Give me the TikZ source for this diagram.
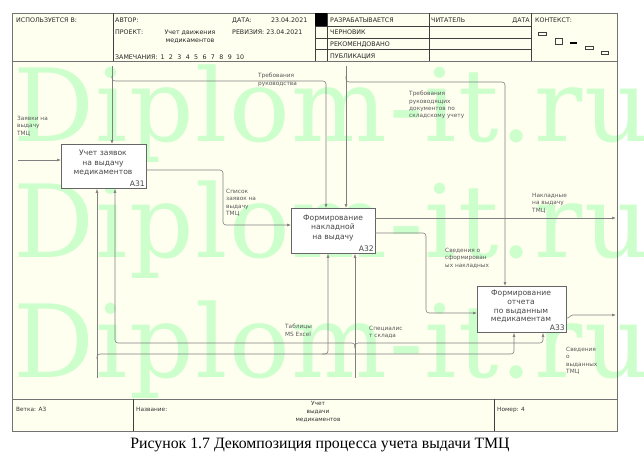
\documentclass[tikz,border=0pt]{standalone}
\usepackage{fontspec}
\setmainfont{DejaVu Sans}
\newfontfamily\wmfont[LetterSpace=1.5]{DejaVu Serif}
\newfontfamily\capfont{Liberation Serif}
\usetikzlibrary{arrows.meta}
\definecolor{ivory}{HTML}{FFFFF0}
\definecolor{wmg}{HTML}{CCFFCC}
\tikzset{
  hdr/.style={font=\fontsize{6.3}{7.5}\selectfont, inner sep=0pt, anchor=base west, text=black!85},
  ftr/.style={font=\fontsize{5.8}{7.8}\selectfont, inner sep=0pt, anchor=base west, text=black!80},
  lbl/.style={font=\fontsize{5.8}{7.4}\selectfont, align=left, inner sep=0pt, anchor=north west, text=black!65},
  box/.style={draw=black!60, fill=white, line width=0.9pt, inner sep=0pt, anchor=north west},
  boxtxt/.style={font=\fontsize{7.6}{9.6}\selectfont, align=center, inner sep=0pt, text=black!72},
  boxnum/.style={font=\fontsize{7.6}{9}\selectfont, inner sep=0pt, anchor=base east, text=black!72},
  arr/.style={draw=black!50, line width=0.6pt, rounded corners=3pt, -{Latex[length=4pt,width=3pt]}},
  frm/.style={draw=black!55, line width=0.7pt},
  cell/.style={draw=black!75, line width=0.6pt},
  wmk/.style={font=\wmfont\fontsize{101}{110}\selectfont, inner sep=0pt, anchor=base west, text=wmg},
}
\begin{document}
\begin{tikzpicture}[x=1pt,y=-1pt]
\useasboundingbox (0,0) rectangle (644,460);
\fill[white] (0,0) rectangle (644,460);
% ---------- main area background + watermark ----------
\fill[ivory] (12,61) rectangle (617,399);
\begin{scope}
\clip (0,61) rectangle (644,399);
\node[wmk] (w1) at (13,141) {Diplom-it.ru};
\node[wmk] (w2) at (13,257) {Diplom-it.ru};
\node[wmk] (w3) at (13,377) {Diplom-it.ru};
\end{scope}
\draw[frm] (12,61) rectangle (617,399);
% ---------- header ----------
\filldraw[frm, fill=ivory] (12,13) rectangle (617,61);
\foreach \xx in {113,315,327,429,531} \draw[cell] (\xx,13) -- (\xx,61);
\foreach \yy in {26.5,38,49.5} \draw[cell] (315,\yy) -- (531,\yy);
\fill[black] (315,13) rectangle (327,26.5);
\node[hdr] (h1) at (16,23) {ИСПОЛЬЗУЕТСЯ В:};
\node[hdr] (h2) at (115,23) {АВТОР:};
\node[hdr] (h3) at (232,23) {ДАТА:};
\node[hdr] (h4) at (271,23) {23.04.2021};
\node[hdr] (h5) at (115,35) {ПРОЕКТ:};
\node[hdr, anchor=north, align=center, font=\fontsize{6.3}{8.5}\selectfont] (h6) at (190,29.5) {Учет движения\\медикаментов};
\node[hdr] (h7) at (232,35) {РЕВИЗИЯ: 23.04.2021};
\node[hdr] (h8) at (115,59.5) {ЗАМЕЧАНИЯ:\hspace{3pt}1\hspace{4.4pt}2\hspace{4.4pt}3\hspace{4.4pt}4\hspace{4.4pt}5\hspace{4.4pt}6\hspace{4.4pt}7\hspace{4.4pt}8\hspace{4.4pt}9\hspace{4.4pt}10};
\node[hdr] (h9) at (330,23) {РАЗРАБАТЫВАЕТСЯ};
\node[hdr] (h10) at (330,35) {ЧЕРНОВИК};
\node[hdr] (h11) at (330,47) {РЕКОМЕНДОВАНО};
\node[hdr] (h12) at (330,59) {ПУБЛИКАЦИЯ};
\node[hdr] (h13) at (431,23) {ЧИТАТЕЛЬ};
\node[hdr, anchor=base east] (h14) at (530,23) {ДАТА};
\node[hdr] (h15) at (535,23) {КОНТЕКСТ:};
\draw[cell] (538,32) rectangle (546,35);
\draw[cell] (555,38) rectangle (562,44);
\fill[black] (570,42) rectangle (577,44.5);
\draw[cell] (585,46) rectangle (593,49);
\draw[cell] (601,51) rectangle (608,54);
% ---------- footer ----------
\filldraw[frm, fill=ivory] (12,399) rectangle (617,431);
\draw[cell] (133,399) -- (133,431);
\draw[cell] (494,399) -- (494,431);
\node[ftr] (f1) at (16,411) {Ветка: А3};
\node[ftr] (f2) at (136,411) {Название:};
\node[ftr, anchor=north, align=center] (f3) at (318,401.5) {Учет\\выдачи\\медикаментов};
\node[ftr] (f4) at (497,411) {Номер: 4};
% ---------- activity boxes ----------
\node[box, minimum width=85pt, minimum height=44pt] (a31) at (61,144) {};
\node[boxtxt] (t31) at (103,163) {Учет заявок\\на выдачу\\медикаментов};
\node[boxnum] (n31) at (145,186.5) {A31};
\node[box, minimum width=84pt, minimum height=45pt] (a32) at (291,208) {};
\node[boxtxt] (t32) at (333,228) {Формирование\\накладной\\на выдачу};
\node[boxnum] (n32) at (374,251.5) {A32};
\node[box, minimum width=89pt, minimum height=46pt] (a33) at (477,286) {};
\node[boxtxt, font=\fontsize{7.6}{8.8}\selectfont] (t33) at (521,306.5) {Формирование\\отчета\\по выданным\\медикаментам};
\node[boxnum] (n33) at (565,330.5) {A33};
% ---------- ports ----------
\coordinate (in1) at (18,160);
\coordinate (c1) at (112,66);
\coordinate (c1b) at (112,76);
\coordinate (k1) at (326,81);
\coordinate (c2) at (346,66);
\coordinate (c2b) at (346,76);
\coordinate (k2) at (505,82);
\coordinate (o31) at (146,170);
\coordinate (o32a) at (375,218);
\coordinate (o32b) at (375,233);
\coordinate (o33) at (566,318);
\coordinate (out1) at (616,218);
\coordinate (out2) at (616,315);
\coordinate (m1) at (97,378);
\coordinate (m1b) at (97,359);
\coordinate (m2) at (355,378);
\coordinate (m2b) at (355,348);
% ---------- arrows ----------
\draw[arr] (in1) -- (in1 -| a31.west);
\draw[arr] (c1) -- (c1 |- a31.north);
\draw[arr] (c1b) |- (k1) -- (k1 |- a32.north);
\draw[arr] (c2) -- (c2 |- a32.north);
\draw[arr] (c2b) |- (k2) -- (k2 |- a33.north);
\draw[arr] (o31) -- (223,170) -- (223,225) -- (a32.west |- 0,225);
\draw[arr] (o32a) -- (out1);
\draw[arr] (o32b) -- (426,233) -- (426,313) -- (a33.west |- 0,313);
\draw[arr, rounded corners=1.5pt] (o33) -- (569,318) -- (571,315) -- (out2);
\draw[arr] (m1) -- (m1 |- a31.south);
\draw[arr] (m1b) |- (514,354) -- (514,0 |- a33.south);
\draw[arr] (322,354) -| (328,0 |- a32.south);
\draw[arr] (m2) -- (m2 |- a32.south);
\draw[arr] (m2b) |- (115,343) -- (115,0 |- a31.south);
\draw[arr] (m2b) |- (543,343) -- (543,0 |- a33.south);
% ---------- labels ----------
\node[lbl] (l1) at (17,116) {Заявки на\\выдачу\\ТМЦ};
\node[lbl] (l2) at (258,73) {Требования\\руководства};
\node[lbl] (l3) at (409,91) {Требования\\руководящих\\документов по\\складскому учету};
\node[lbl] (l4) at (226,189) {Список\\заявок на\\выдачу\\ТМЦ};
\node[lbl] (l5) at (532,193) {Накладные\\на выдачу\\ТМЦ};
\node[lbl] (l6) at (445,248) {Сведения о\\сформирован\\ых накладных};
\node[lbl] (l7) at (566,347) {Сведения\\о\\выданных\\ТМЦ};
\node[lbl] (l8) at (285,324) {Таблицы\\MS Excel};
\node[lbl] (l9) at (369,326) {Специалис\\т склада};
% ---------- caption ----------
\node[font=\capfont\fontsize{15.8}{17}\selectfont, inner sep=0pt] (cap) at (320,445) {Рисунок 1.7 Декомпозиция процесса учета выдачи ТМЦ};
\end{tikzpicture}
\end{document}
